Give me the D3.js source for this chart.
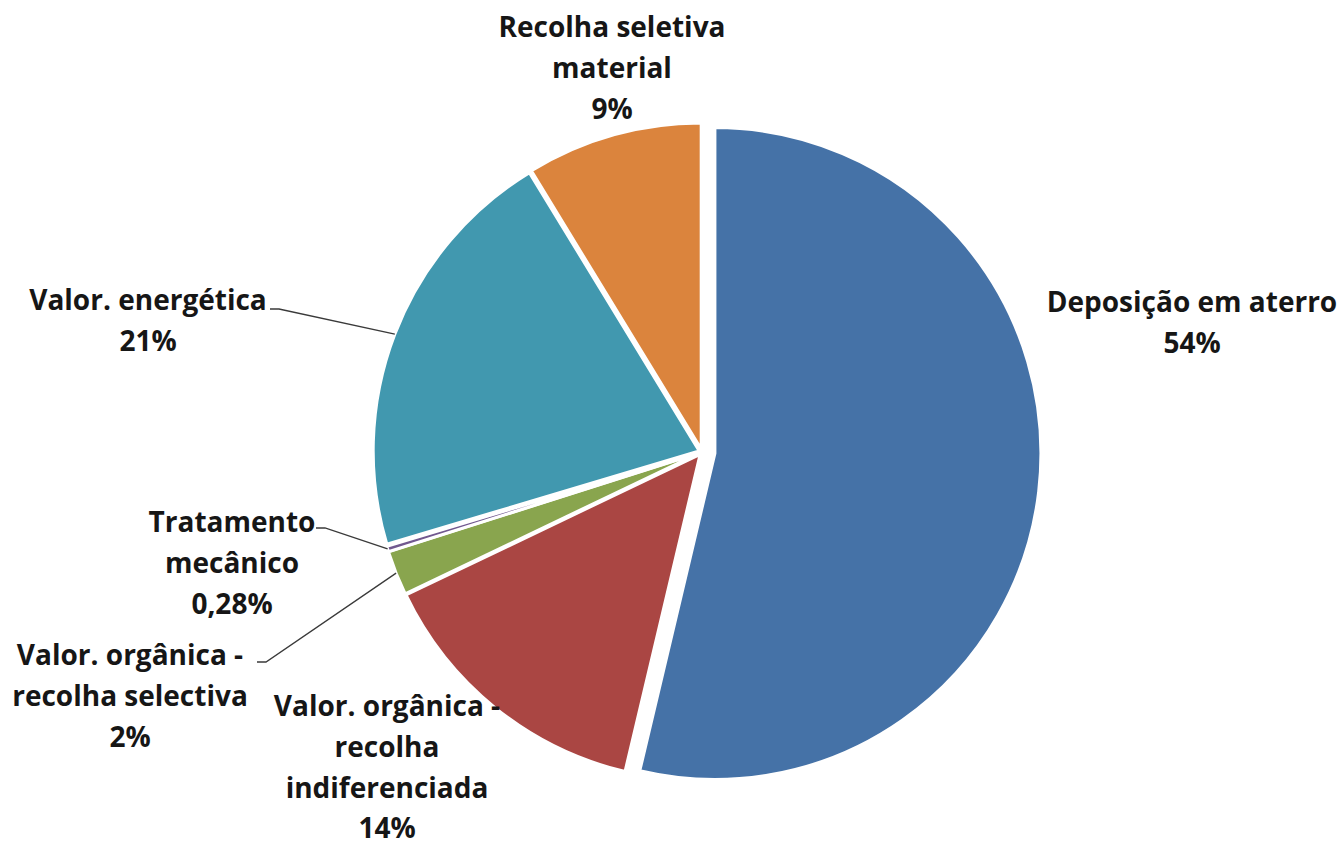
<!DOCTYPE html>
<html>
<head>
<meta charset="utf-8">
<script src="https://cdn.jsdelivr.net/npm/d3@7"></script>
<style>
  html, body { margin: 0; padding: 0; background: #fff; }
  text { font-family: "Open Sans", "Noto Sans", sans-serif; font-weight: bold; fill: #161616; }
</style>
</head>
<body>
<div id="chart"></div>
<script>
// Data
var categories      =   [
    ["Deposição em aterro"],
    ["Valor. orgânica -", "recolha", "indiferenciada"],
    ["Valor. orgânica -", "recolha selectiva"],
    ["Tratamento", "mecânico"],
    ["Valor. energética"],
    ["Recolha seletiva", "material"]
];
var values          =   [53.7, 14.2, 2.2, 0.28, 20.9, 8.72];
var pct_labels      =   ["54%", "14%", "2%", "0,28%", "21%", "9%"];
var colors          =   ["#4572a7", "#aa4643", "#89a54e", "#71588f", "#4198af", "#db843d"];

// Layout (label anchor = centre x, first baseline y; leader = start point or null)
var label_pos       =   [
    { x: 1192, y: 312, leader: null },
    { x: 387,  y: 716, leader: null },
    { x: 130,  y: 665, leader: [257, 662] },
    { x: 232,  y: 532, leader: [316, 528] },
    { x: 148,  y: 310, leader: [270, 309] },
    { x: 612,  y: 37,  leader: null }
];
var explode         =   [13, 3, 3, 3, 3, 3];

//Width and height
var chart_width     =   1342;
var chart_height    =   846;
var cx              =   702;
var cy              =   452;
var radius          =   326;
var line_height     =   40.8;

var svg             =   d3.select("#chart")
    .append( "svg" )
    .attr( "width", chart_width )
    .attr( "height", chart_height );

var pie             =   d3.pie().sort( null ).value( d => d );
var arcs            =   pie( values );
var arc             =   d3.arc().innerRadius( 0 ).outerRadius( radius );

// Slices
svg.selectAll("path")
    .data(arcs)
    .enter()
    .append( "path" )
    .attr( "d", arc )
    .attr( "transform", function( d, i ) {
        var mid = ( d.startAngle + d.endAngle ) / 2;
        var dx  = cx + explode[i] * Math.sin( mid );
        var dy  = cy - explode[i] * Math.cos( mid );
        return "translate(" + dx + "," + dy + ")";
    })
    .style( "fill", (d, i) => colors[i] )
    .style( "stroke", "#fff" )
    .style( "stroke-width", 3 )
    .style( "stroke-linejoin", "round" );

// Leader lines
svg.selectAll("polyline")
    .data(arcs.filter( (d, i) => label_pos[i].leader ))
    .enter()
    .append( "polyline" )
    .attr( "points", function( d ) {
        var i   = d.index;
        var mid = ( d.startAngle + d.endAngle ) / 2;
        var ex  = cx + explode[i] * Math.sin( mid ) + radius * Math.sin( mid );
        var ey  = cy - explode[i] * Math.cos( mid ) - radius * Math.cos( mid );
        var s   = label_pos[i].leader;
        return [ s, [ s[0] + 9, s[1] ], [ ex, ey ] ].map( p => p.join(",") ).join(" ");
    })
    .style( "fill", "none" )
    .style( "stroke", "#3a3a3a" )
    .style( "stroke-width", 1.3 );

// Labels
var labels          =   svg.selectAll("text.label")
    .data(categories)
    .enter()
    .append( "text" )
    .attr( "class", "label" )
    .attr( "text-anchor", "middle" )
    .attr( "font-size", 28 )
    .attr( "x", (d, i) => label_pos[i].x )
    .attr( "y", (d, i) => label_pos[i].y );

labels.each(function( d, i ) {
    var t     = d3.select( this );
    var lines = d.concat( [ pct_labels[i] ] );
    lines.forEach(function( l, j ) {
        t.append( "tspan" )
            .attr( "x", label_pos[i].x )
            .attr( "dy", j === 0 ? 0 : line_height )
            .text( l );
    });
});
</script>
</body>
</html>
